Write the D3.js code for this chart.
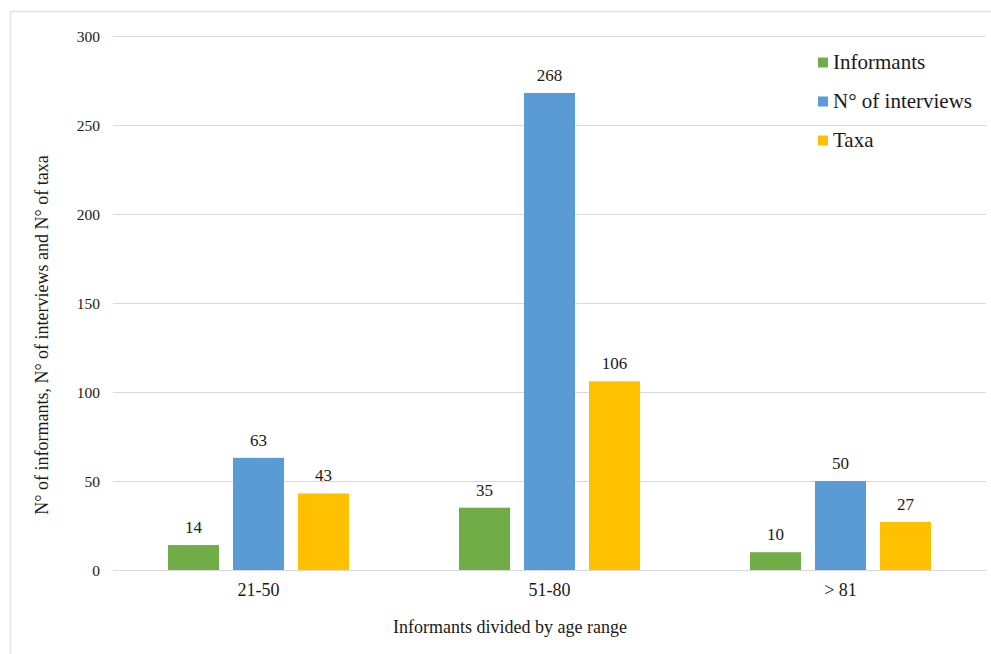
<!DOCTYPE html>
<html><head><meta charset="utf-8">
<script src="https://cdn.jsdelivr.net/npm/d3@7"></script>
</head><body style="margin:0;background:#fff"><svg id="c" width="991" height="654" font-family="Liberation Serif" style="display:block"></svg>
<script>
const categories = ["21-50", "51-80", "> 81"];
const seriesNames = ["Informants", "N° of interviews", "Taxa"];
const informants = [14, 35, 10];
const interviews = [63, 268, 50];
const taxa = [43, 106, 27];
const yTicks = [0, 50, 100, 150, 200, 250, 300];
const colors = ["#70AD47", "#5B9BD5", "#FFC000"];

const FONT = "Liberation Serif";
const series = [informants, interviews, taxa];
const svg = d3.select("#c");
const m = {l:113, r:986, t:36, b:570};

// outer border (top and left)
svg.append("line").attr("x1",10).attr("x2",991).attr("y1",11.5).attr("y2",11.5).attr("stroke","#e3e3e3").attr("stroke-width",1.5);
svg.append("line").attr("x1",10.5).attr("x2",10.5).attr("y1",11).attr("y2",654).attr("stroke","#e3e3e3").attr("stroke-width",1.5);

const y = d3.scaleLinear().domain([0,300]).range([m.b, m.t]);
const x0 = d3.scaleBand().domain(categories).range([m.l, m.r]).paddingInner(0).paddingOuter(0);
const x1 = d3.scaleBand().domain(seriesNames).range([55, x0.bandwidth()-55]).paddingInner(0.215).paddingOuter(0);

// gridlines
svg.append("g").selectAll("line").data(yTicks).join("line")
  .attr("x1", m.l).attr("x2", m.r).attr("y1", d=>y(d)+0.5).attr("y2", d=>y(d)+0.5)
  .attr("stroke","#d9d9d9").attr("stroke-width",1);

// y axis labels
const yAxis = d3.axisLeft(y).tickValues(yTicks).tickSize(0).tickPadding(0);
const gy = svg.append("g").attr("transform",`translate(100,0)`).call(yAxis)
  .attr("font-family", FONT).attr("font-size", 15.5);
gy.select(".domain").remove();
gy.selectAll("text").attr("fill","#1a1a1a").attr("dy","0.33em");

// x axis labels
const xAxis = d3.axisBottom(x0).tickSize(0).tickPadding(0);
const gx = svg.append("g").attr("transform",`translate(0,${m.b+13})`).call(xAxis)
  .attr("font-family", FONT).attr("font-size", 18);
gx.select(".domain").remove();
gx.selectAll("text").attr("fill","#1a1a1a");

// bars
const groups = svg.append("g").selectAll("g").data(categories).join("g")
  .attr("transform", d=>`translate(${x0(d)},0)`);
groups.selectAll("rect").data((d,i)=>seriesNames.map((s,j)=>({s, v:series[j][i], j})))
  .join("rect")
  .attr("x", d=>x1(d.s)).attr("width", x1.bandwidth())
  .attr("y", d=>y(d.v)).attr("height", d=>y(0)-y(d.v))
  .attr("fill", d=>colors[d.j]);
groups.selectAll("text.val").data((d,i)=>seriesNames.map((s,j)=>({s, v:series[j][i], j})))
  .join("text").attr("class","val")
  .attr("x", d=>x1(d.s)+x1.bandwidth()/2).attr("y", d=>y(d.v)-12)
  .attr("text-anchor","middle").attr("font-family",FONT).attr("font-size",17).attr("fill","#1a1a1a").text(d=>d.v);

// axis titles
svg.append("text").attr("x", 510).attr("y", 633).attr("text-anchor","middle")
  .attr("font-family",FONT).attr("font-size",18).attr("fill","#1a1a1a").text("Informants divided by age range");
svg.append("text").attr("transform","translate(48,335) rotate(-90)").attr("text-anchor","middle")
  .attr("font-family",FONT).attr("font-size",18).attr("fill","#1a1a1a").text("N° of informants, N° of interviews and N° of taxa");

// legend
const lg = svg.append("g").selectAll("g").data(seriesNames).join("g")
  .attr("transform",(d,i)=>`translate(818,${62.5+i*39})`);
lg.append("rect").attr("x",0).attr("y",-5).attr("width",10).attr("height",10).attr("fill",(d,i)=>colors[i]);
lg.append("text").attr("x",15).attr("y",6.5).attr("font-family",FONT).attr("font-size",21).attr("fill","#1a1a1a").text(d=>d);
</script></body></html>
